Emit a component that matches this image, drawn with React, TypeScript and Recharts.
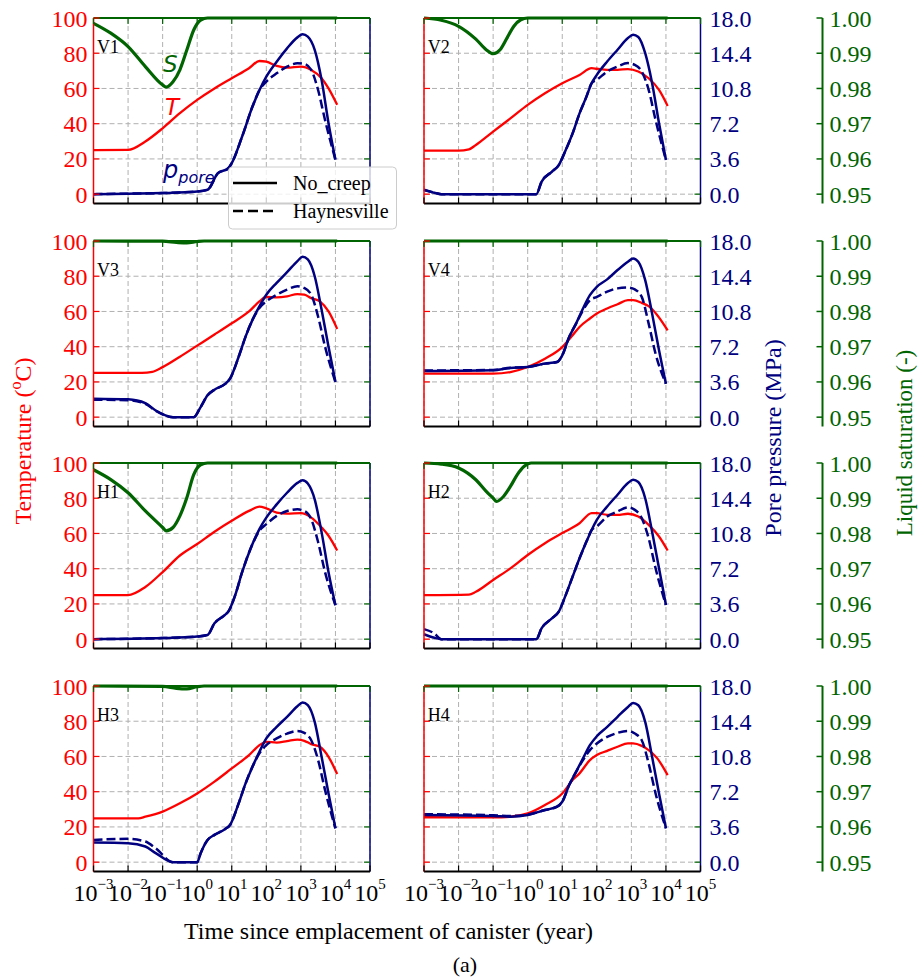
import React from 'react';
import { ComposedChart, Line, XAxis, YAxis, CartesianGrid, ReferenceLine } from 'recharts';

// Each series is a list of [log10(years), value] pairs.
// Temperature in °C, pore pressure in MPa, liquid saturation as a fraction.

const V1_T = [[-3, 25], [-2, 25.1], [-1.5, 29.9], [-1, 37.4], [-0.5, 46], [0, 53.5], [0.5, 60], [1, 65.8], [1.5, 71.5], [1.8, 75.6], [2, 75.2], [2.3, 72.8], [2.6, 71.8], [3, 72.4], [3.3, 70.5], [3.6, 65.8], [3.8, 60], [4.05, 50.7]];
const V1_P = [[-3, 0], [-2, 0.05], [-1, 0.11], [0, 0.27], [0.3, 0.45], [0.6, 2.14], [0.9, 2.65], [1, 3.17], [1.3, 5.89], [1.6, 8.95], [1.8, 10.62], [2, 12.0], [2.3, 13.54], [2.6, 14.9], [2.9, 16.02], [3.05, 16.33], [3.2, 16.09], [3.4, 14.74], [3.6, 11.66], [3.8, 7.25], [4.0, 3.51]];
const V1_PH = [[-3, 0], [-2, 0.05], [-1, 0.11], [0, 0.27], [0.3, 0.45], [0.6, 2.14], [0.9, 2.65], [1, 3.17], [1.3, 5.89], [1.6, 8.95], [1.8, 10.62], [2, 11.5], [2.3, 12.35], [2.6, 13.03], [2.9, 13.37], [3.1, 13.3], [3.3, 12.69], [3.5, 10.62], [3.7, 7.56], [4.0, 3.51]];
const V1_S = [[-3, 0.9985], [-2.5, 0.9957], [-2, 0.9919], [-1.5, 0.9862], [-1, 0.981], [-0.9, 0.9804], [-0.7, 0.9819], [-0.5, 0.9853], [-0.3, 0.9909], [-0.1, 0.9966], [0.1, 0.9994], [0.3, 1], [4.05, 1]];

const V2_T = [[-3, 24.7], [-2, 24.7], [-1.7, 25.4], [-1.5, 27.9], [-1, 35.5], [-0.5, 43], [0, 50.7], [0.5, 57.3], [1, 63], [1.5, 67.7], [1.85, 71.5], [2, 71.2], [2.3, 70.6], [2.6, 70.6], [2.9, 71], [3.2, 69.6], [3.5, 65.8], [3.8, 59.2], [4.05, 50.1]];
const V2_P = [[-3, 0.41], [-2.7, 0.14], [-2.5, 0], [0.25, 0], [0.4, 1.26], [0.7, 2.29], [0.9, 2.97], [1.1, 4.5], [1.3, 6.21], [1.5, 8.26], [1.7, 9.97], [1.85, 11.34], [2, 12.19], [2.3, 13.55], [2.6, 14.76], [2.9, 15.95], [3.05, 16.29], [3.2, 16.06], [3.4, 14.4], [3.6, 11.34], [3.8, 7.24], [4.0, 3.49]];
const V2_PH = [[-3, 0.45], [-2.7, 0.16], [-2.5, 0], [0.25, 0], [0.4, 1.26], [0.7, 2.29], [0.9, 2.97], [1.1, 4.5], [1.3, 6.21], [1.5, 8.26], [1.7, 9.97], [1.85, 11.34], [2, 11.68], [2.3, 12.53], [2.6, 13.05], [2.9, 13.39], [3.1, 13.21], [3.3, 12.53], [3.5, 10.66], [3.7, 7.58], [4.0, 3.49]];
const V2_S = [[-3, 1], [-2.5, 0.99935], [-2, 0.99765], [-1.5, 0.994], [-1.2, 0.991], [-1, 0.98985], [-0.8, 0.991], [-0.6, 0.9943], [-0.4, 0.99765], [-0.2, 0.9995], [0, 1], [4.05, 1]];

const V3_T = [[-3, 25.1], [-1.6, 25.1], [-1.3, 25.7], [-1, 28.4], [-0.5, 34.3], [0, 40.6], [0.5, 46.9], [1, 53.3], [1.5, 60], [1.8, 65.7], [2, 68.2], [2.3, 68], [2.6, 68.6], [2.9, 69.9], [3.1, 69.5], [3.3, 67.6], [3.55, 65.7], [3.8, 60], [4.05, 50.1]];
const V3_P = [[-3, 1.89], [-2, 1.82], [-1.5, 1.44], [-1.2, 0.68], [-0.7, 0], [-0.1, 0], [0.1, 1.03], [0.3, 2.23], [0.5, 2.81], [0.8, 3.37], [0.95, 3.94], [1.2, 6.17], [1.4, 8.23], [1.6, 9.94], [1.8, 11.32], [2, 12.51], [2.3, 13.72], [2.6, 14.81], [2.9, 15.95], [3.05, 16.38], [3.2, 16.11], [3.4, 14.4], [3.6, 10.98], [3.8, 7.2], [4.0, 3.6]];
const V3_PH = [[-3, 1.78], [-2, 1.73], [-1.5, 1.37], [-1.2, 0.65], [-0.7, 0], [-0.1, 0], [0.1, 1.03], [0.3, 2.23], [0.5, 2.81], [0.8, 3.37], [0.95, 3.94], [1.2, 6.17], [1.4, 8.23], [1.6, 9.94], [1.8, 11.16], [2, 11.83], [2.3, 12.51], [2.6, 13.03], [2.9, 13.37], [3.1, 13.19], [3.3, 12.51], [3.5, 10.26], [3.7, 7.2], [4.0, 3.6]];
const V3_S = [[-3, 1], [-1, 0.99995], [-0.6, 0.9996], [-0.3, 0.99945], [0, 0.99985], [0.2, 1], [4.05, 1]];

const V4_T = [[-3, 24.7], [-1, 24.7], [-0.5, 25.6], [0, 28.5], [0.5, 33.2], [1, 39.8], [1.3, 46.5], [1.5, 51.2], [1.8, 56], [2, 58.8], [2.3, 61.7], [2.6, 64.1], [2.9, 66.4], [3.05, 66.4], [3.3, 64.9], [3.5, 63], [3.75, 57.9], [4.05, 49.3]];
const V4_P = [[-3, 4.72], [-1, 4.79], [-0.5, 5.02], [0, 5.13], [0.5, 5.47], [0.85, 5.63], [1, 6.32], [1.2, 8.19], [1.4, 9.56], [1.6, 11.11], [1.8, 12.47], [2, 13.32], [2.3, 14.08], [2.6, 15.03], [2.9, 15.88], [3.05, 16.22], [3.2, 15.88], [3.4, 14.0], [3.6, 10.58], [3.8, 6.84], [4.0, 3.42]];
const V4_PH = [[-3, 4.77], [-1, 4.82], [-0.5, 5.04], [0, 5.13], [0.5, 5.47], [0.85, 5.63], [1, 6.32], [1.2, 8.19], [1.4, 9.56], [1.6, 10.93], [1.8, 11.95], [2, 12.29], [2.3, 12.82], [2.6, 13.16], [2.9, 13.25], [3.1, 13.05], [3.3, 12.29], [3.5, 9.56], [3.7, 6.48], [4.0, 3.42]];
const V4_S = [[-3, 1], [4.05, 1]];

const H1_T = [[-3, 25], [-2, 25], [-1.5, 29.6], [-1, 38.1], [-0.5, 47.5], [0, 54], [0.5, 61], [1, 67.2], [1.5, 72.8], [1.8, 75.2], [2, 74.3], [2.3, 71.9], [2.6, 71.3], [3, 71.5], [3.3, 69], [3.6, 63.4], [3.8, 58.7], [4.05, 50.3]];
const H1_P = [[-3, 0], [-1, 0.11], [0, 0.27], [0.3, 0.43], [0.5, 1.62], [0.8, 2.47], [0.9, 2.81], [1.1, 4.5], [1.3, 6.84], [1.6, 9.72], [1.8, 11.25], [2, 12.42], [2.3, 13.77], [2.6, 14.96], [2.9, 15.97], [3.05, 16.24], [3.2, 15.91], [3.4, 14.29], [3.6, 10.91], [3.8, 6.84], [4.0, 3.47]];
const H1_PH = [[-3, 0], [-1, 0.11], [0, 0.27], [0.3, 0.43], [0.5, 1.62], [0.8, 2.47], [0.9, 2.81], [1.1, 4.5], [1.3, 6.84], [1.6, 9.72], [1.8, 11.07], [2, 11.75], [2.3, 12.6], [2.6, 13.1], [2.9, 13.27], [3.1, 13.1], [3.3, 12.26], [3.5, 9.9], [3.7, 6.84], [4.0, 3.47]];
const H1_S = [[-3, 0.9981], [-2.5, 0.9953], [-2, 0.99155], [-1.5, 0.9864], [-1, 0.9817], [-0.9, 0.98075], [-0.7, 0.9817], [-0.5, 0.985], [-0.3, 0.99015], [-0.1, 0.9967], [0.1, 0.9995], [0.3, 1], [4.05, 1]];

const H2_T = [[-3, 25], [-1.7, 25.3], [-1.5, 26.9], [-1, 33.6], [-0.5, 40.2], [0, 47.8], [0.5, 54.5], [1, 60.2], [1.5, 65.8], [1.85, 71.5], [2, 71.5], [2.3, 70.6], [2.6, 70.6], [2.9, 71.2], [3.2, 69.6], [3.5, 64.9], [3.8, 58.3], [4.05, 50.3]];
const H2_P = [[-3, 0.5], [-2.7, 0.14], [-2.5, 0], [0.25, 0], [0.4, 1.1], [0.7, 2.12], [0.9, 2.81], [1.1, 4.5], [1.3, 6.39], [1.5, 8.26], [1.7, 9.97], [1.85, 11.16], [2, 12.19], [2.3, 13.55], [2.6, 14.76], [2.9, 15.95], [3.05, 16.29], [3.2, 16.06], [3.4, 14.4], [3.6, 10.98], [3.8, 7.24], [4.0, 3.49]];
const H2_PH = [[-3, 1.03], [-2.7, 0.58], [-2.5, 0], [0.25, 0], [0.4, 1.1], [0.7, 2.12], [0.9, 2.81], [1.1, 4.5], [1.3, 6.39], [1.5, 8.26], [1.7, 9.97], [1.85, 11.16], [2, 11.52], [2.3, 12.53], [2.6, 13.05], [2.9, 13.46], [3.1, 13.21], [3.3, 12.37], [3.5, 10.31], [3.7, 7.24], [4.0, 3.49]];
const H2_S = [[-3, 1], [-2.5, 0.9997], [-2, 0.9986], [-1.5, 0.99525], [-1.2, 0.99195], [-1, 0.99005], [-0.9, 0.9891], [-0.7, 0.9905], [-0.5, 0.99335], [-0.3, 0.9967], [-0.1, 0.99905], [0.1, 1], [4.05, 1]];

const H3_T = [[-3, 24.9], [-1.7, 24.9], [-1.5, 25.8], [-1, 28.7], [-0.5, 33.4], [0, 39], [0.5, 45.7], [1, 53.2], [1.5, 60.8], [1.8, 66.4], [2, 68.3], [2.3, 67.9], [2.6, 68.7], [2.9, 69.6], [3.1, 68.9], [3.3, 67], [3.55, 65.5], [3.8, 59.8], [4.05, 50]];
const H3_P = [[-3, 2.0], [-2, 1.94], [-1.5, 1.6], [-1.2, 0.92], [-0.7, 0], [0, 0], [0.1, 0.92], [0.3, 2.27], [0.5, 2.79], [0.8, 3.37], [0.95, 3.8], [1.2, 6.01], [1.4, 8.05], [1.6, 9.76], [1.8, 11.27], [2, 12.64], [2.3, 13.82], [2.6, 14.85], [2.9, 15.93], [3.05, 16.31], [3.2, 16.04], [3.4, 14.33], [3.6, 10.76], [3.8, 7.02], [4.0, 3.46]];
const H3_PH = [[-3, 2.27], [-2, 2.38], [-1.5, 2.11], [-1.2, 1.42], [-0.7, 0], [0, 0], [0.1, 0.92], [0.3, 2.27], [0.5, 2.79], [0.8, 3.37], [0.95, 3.8], [1.2, 6.01], [1.4, 8.05], [1.6, 9.76], [1.8, 11.11], [2, 11.95], [2.3, 12.64], [2.6, 13.14], [2.9, 13.41], [3.1, 13.21], [3.3, 12.46], [3.5, 10.42], [3.7, 7.36], [4.0, 3.46]];
const H3_S = [[-3, 1], [-1, 0.9999], [-0.6, 0.99935], [-0.3, 0.9992], [0, 0.9998], [0.2, 1], [4.05, 1]];

const H4_T = [[-3, 25.5], [-1, 25.4], [-0.5, 25.8], [0, 27.7], [0.5, 32.5], [1, 39], [1.3, 46.6], [1.5, 50.4], [1.8, 57.9], [2, 60.8], [2.3, 63.2], [2.6, 65.5], [2.9, 67.4], [3.05, 67.4], [3.3, 66], [3.5, 63.6], [3.75, 58.9], [4.05, 49.4]];
const H4_P = [[-3, 4.82], [-1, 4.72], [-0.5, 4.64], [0, 4.82], [0.5, 5.33], [0.85, 5.67], [1, 6.17], [1.2, 7.88], [1.4, 9.23], [1.6, 10.6], [1.8, 11.95], [2, 12.87], [2.3, 13.82], [2.6, 14.85], [2.9, 15.86], [3.05, 16.27], [3.2, 16.04], [3.4, 14.33], [3.6, 10.76], [3.8, 7.02], [4.0, 3.46]];
const H4_PH = [[-3, 4.9], [-1, 4.79], [-0.5, 4.72], [0, 4.86], [0.5, 5.33], [0.85, 5.67], [1, 6.17], [1.2, 7.88], [1.4, 9.23], [1.6, 10.42], [1.8, 11.45], [2, 12.13], [2.3, 12.8], [2.6, 13.21], [2.9, 13.41], [3.1, 13.14], [3.3, 12.46], [3.5, 10.08], [3.7, 7.02], [4.0, 3.46]];
const H4_S = [[-3, 1], [4.05, 1]];

const X_TICKS = [1e-3, 1e-2, 1e-1, 1, 10, 100, 1e3, 1e4, 1e5];
const T_TICKS = [0, 20, 40, 60, 80, 100];
const P_TICKS = [0, 3.6, 7.2, 10.8, 14.4, 18];
const S_TICKS = [0.95, 0.96, 0.97, 0.98, 0.99, 1.0];

const PANELS = [
  { name: 'V1', row: 0, col: 0, temp: V1_T, pore: V1_P, poreH: V1_PH, sat: V1_S },
  { name: 'V2', row: 0, col: 1, temp: V2_T, pore: V2_P, poreH: V2_PH, sat: V2_S },
  { name: 'V3', row: 1, col: 0, temp: V3_T, pore: V3_P, poreH: V3_PH, sat: V3_S },
  { name: 'V4', row: 1, col: 1, temp: V4_T, pore: V4_P, poreH: V4_PH, sat: V4_S },
  { name: 'H1', row: 2, col: 0, temp: H1_T, pore: H1_P, poreH: H1_PH, sat: H1_S },
  { name: 'H2', row: 2, col: 1, temp: H2_T, pore: H2_P, poreH: H2_PH, sat: H2_S },
  { name: 'H3', row: 3, col: 0, temp: H3_T, pore: H3_P, poreH: H3_PH, sat: H3_S },
  { name: 'H4', row: 3, col: 1, temp: H4_T, pore: H4_P, poreH: H4_PH, sat: H4_S },
];

const SERIF = '"Liberation Serif", "Times New Roman", "DejaVu Serif", serif';
const SANS = '"DejaVu Sans", sans-serif';
const RED = '#ff0000';
const NAVY = '#000080';
const GREEN = '#006400';

// plot-area geometry (page pixels)
const PW = 276.5;
const PH = 185.5;
const ROW_TOP = [17.5, 240.5, 462.5, 685.5];
const COL_LEFT = [93.5, 424.3];
const TOP_PAD = 14;

const series = (pts: number[][]) => pts.map(([e, v]) => ({ t: 10 ** e, v }));

const XTick = ({ x, y, payload, showLabel }: any) => {
  const e = Math.round(Math.log10(payload.value));
  const exp = e < 0 ? `\u2212${-e}` : `${e}`;
  return (
    <g>
      <line x1={x} y1={y} x2={x} y2={y - 6} stroke="#000" strokeWidth={1.2} />
      <line x1={x} y1={y - PH} x2={x} y2={y - PH + 6} stroke={GREEN} strokeWidth={1.2} />
      {showLabel && (
        <text x={x} y={y + 29} textAnchor="middle" style={{ fontFamily: SERIF }} fontSize={24} fill="#000">
          10<tspan dy={-12} fontSize={15}>{exp}</tspan>
        </text>
      )}
    </g>
  );
};

const TempTick = ({ x, y, payload, showLabel }: any) => (
  <g>
    <line x1={x} y1={y} x2={x + 6} y2={y} stroke={RED} strokeWidth={1.2} />
    <line x1={x + PW - 6} y1={y} x2={x + PW} y2={y} stroke={GREEN} strokeWidth={1.2} />
    {showLabel && (
      <text x={x - 6} y={y + 8.5} textAnchor="end" style={{ fontFamily: SERIF }} fontSize={24} fill={RED}>
        {payload.value}
      </text>
    )}
  </g>
);

const PoreTick = ({ x, y, payload }: any) => (
  <text x={x + 9} y={y + 8.5} textAnchor="start" style={{ fontFamily: SERIF }} fontSize={24} fill={NAVY}>
    {payload.value.toFixed(1)}
  </text>
);

const SatTick = ({ x, y, payload }: any) => (
  <g>
    <line x1={x - 6} y1={y} x2={x} y2={y} stroke={GREEN} strokeWidth={1.5} />
    <text x={x + 7} y={y + 8.5} textAnchor="start" style={{ fontFamily: SERIF }} fontSize={24} fill={GREEN}>
      {payload.value.toFixed(2)}
    </text>
  </g>
);

const Panel = ({ cfg }: any) => {
  const right = cfg.col === 1;
  const bottom = cfg.row === 3;
  const xH = bottom ? 40 : 4;
  const tempW = right ? 1 : 93.5;
  const marginLeft = right ? 26 : 0;
  const marginRight = right ? 4 : 28;
  const width = marginLeft + tempW + PW + (right ? 122 + 60 : 0) + marginRight;
  const height = TOP_PAD + PH + xH;
  const left = COL_LEFT[cfg.col] - marginLeft - tempW;

  return (
    <div style={{ position: 'absolute', left, top: ROW_TOP[cfg.row] - TOP_PAD }}>
      <ComposedChart width={width} height={height} margin={{ top: TOP_PAD, right: marginRight, bottom: 0, left: marginLeft }}>
        <CartesianGrid stroke="#b0b0b0" strokeDasharray="5 3" strokeWidth={1} />
        <XAxis
          dataKey="t"
          type="number"
          scale="log"
          domain={[1e-3, 1e5]}
          ticks={X_TICKS}
          interval={0}
          height={xH}
          tickSize={0}
          tickMargin={0}
          axisLine={{ stroke: '#000', strokeWidth: 2 }}
          tick={(p: any) => <XTick {...p} showLabel={bottom} />}
        />
        <YAxis
          yAxisId={0}
          domain={[-5.3, 100]}
          ticks={T_TICKS}
          interval={0}
          width={tempW}
          tickSize={0}
          tickMargin={0}
          axisLine={{ stroke: RED, strokeWidth: 1.5 }}
          tick={(p: any) => <TempTick {...p} showLabel={!right} />}
        />
        <YAxis
          yAxisId="p"
          orientation="right"
          domain={[-0.954, 18]}
          ticks={P_TICKS}
          interval={0}
          width={122}
          hide={!right}
          tickSize={0}
          tickMargin={0}
          axisLine={{ stroke: NAVY, strokeWidth: 1.5 }}
          tick={(p: any) => <PoreTick {...p} />}
        />
        <YAxis
          yAxisId="s"
          orientation="right"
          domain={[0.94735, 1]}
          ticks={S_TICKS}
          interval={0}
          width={60}
          hide={!right}
          tickSize={0}
          tickMargin={0}
          axisLine={{ stroke: GREEN, strokeWidth: 2 }}
          tick={(p: any) => <SatTick {...p} />}
        />
        <ReferenceLine y={100} stroke={GREEN} strokeWidth={2} />
        {!right && <ReferenceLine x={1e5} stroke={NAVY} strokeWidth={1.5} />}
        <Line data={series(cfg.sat)} dataKey="v" yAxisId="s" type="monotone" stroke={GREEN} strokeWidth={3.2} dot={false} isAnimationActive={false} />
        <Line data={series(cfg.temp)} dataKey="v" yAxisId={0} type="monotone" stroke={RED} strokeWidth={2.3} dot={false} isAnimationActive={false} />
        <Line data={series(cfg.poreH)} dataKey="v" yAxisId="p" type="monotone" stroke={NAVY} strokeWidth={2.5} strokeDasharray="9 4" dot={false} isAnimationActive={false} />
        <Line data={series(cfg.pore)} dataKey="v" yAxisId="p" type="monotone" stroke={NAVY} strokeWidth={2.5} dot={false} isAnimationActive={false} />
      </ComposedChart>
    </div>
  );
};

export default function App() {
  return (
    <div style={{ position: 'absolute', left: 0, top: 0, width: 919, height: 979, background: '#fff' }}>
      {PANELS.map((cfg) => (
        <Panel key={cfg.name} cfg={cfg} />
      ))}
      <svg width={919} height={979} style={{ position: 'absolute', left: 0, top: 0, pointerEvents: 'none', fontFamily: SERIF }}>
        {PANELS.map((cfg) => (
          <text key={cfg.name} x={COL_LEFT[cfg.col] + 3.5} y={ROW_TOP[cfg.row] + 35.5} fontSize={18} fill="#000">
            {cfg.name}
          </text>
        ))}

        {/* curve labels in the first panel */}
        <text x={163} y={72} style={{ fontFamily: SANS }} fontStyle="italic" fontSize={23} fill={GREEN}>S</text>
        <text x={165} y={115} style={{ fontFamily: SANS }} fontStyle="italic" fontSize={23} fill={RED}>T</text>
        <text x={163} y={178} style={{ fontFamily: SANS }} fontStyle="italic" fontSize={24} fill={NAVY}>
          p<tspan dy={5} fontSize={16}>pore</tspan>
        </text>

        {/* legend */}
        <rect x={228.5} y={167} width={168} height={62} rx={4} fill="#fff" fillOpacity={0.8} stroke="#cccccc" />
        <line x1={233} y1={183} x2={277} y2={183} stroke="#000" strokeWidth={2.5} />
        <line x1={233} y1={211} x2={277} y2={211} stroke="#000" strokeWidth={2.5} strokeDasharray="10 5" />
        <text x={293} y={190} fontSize={20} fill="#000">No_creep</text>
        <text x={293} y={218} fontSize={20} fill="#000">Haynesville</text>

        {/* axis titles */}
        <text transform="translate(23,441) rotate(-90)" textAnchor="middle" dominantBaseline="central" fontSize={24} fill={RED}>
          Temperature (<tspan dy={-8} fontSize={16}>o</tspan><tspan dy={8}>C)</tspan>
        </text>
        <text transform="translate(773,438) rotate(-90)" textAnchor="middle" dominantBaseline="central" fontSize={24} fill={NAVY}>
          Pore pressure (MPa)
        </text>
        <text transform="translate(904,443) rotate(-90)" textAnchor="middle" dominantBaseline="central" fontSize={23} fill={GREEN}>
          Liquid saturation (-)
        </text>
        <text x={388.5} y={939} textAnchor="middle" fontSize={24} fill="#000">
          Time since emplacement of canister (year)
        </text>
        <text x={465} y={972} textAnchor="middle" fontSize={22} fill="#000">(a)</text>
      </svg>
    </div>
  );
}
